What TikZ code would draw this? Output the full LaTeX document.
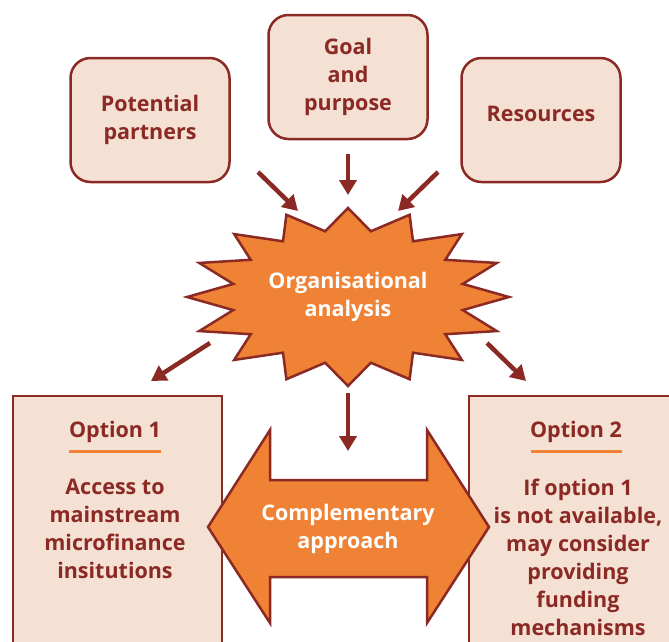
\documentclass[tikz,border=0pt]{standalone}
\usepackage{fontspec}
\setmainfont{Open Sans}
\usetikzlibrary{arrows.meta}
\definecolor{brick}{RGB}{139,42,36}
\definecolor{peach}{RGB}{245,224,212}
\definecolor{burnt}{RGB}{239,130,52}
\begin{document}
\begin{tikzpicture}[x=1pt,y=-1pt,line join=miter,
  font=\fontsize{21.5}{28}\selectfont\bfseries,
  topbox/.style={draw=brick,fill=peach,line width=2.5pt,rounded corners=20pt,minimum width=159pt,minimum height=124pt,text=brick,align=center},
  whitetxt/.style={text=white,align=center},
  redtxt/.style={text=brick,align=center},
  arr/.style={draw=brick,line width=4.5pt,-{Triangle[length=15pt,width=17pt]}}]
\useasboundingbox (0,0) rectangle (669,641);
%top boxes
\node[topbox] (partners) at (150,120) {Potential\\partners};
\node[topbox] (goal) at (348,77) {Goal\\and\\purpose};
\node[topbox,text depth=12pt] (resources) at (541,120) {Resources};
%option boxes (cut off by the border)
\fill[peach] (13,396) rectangle (222,645);
\draw[brick,line width=2.5pt] (13,645)--(13,396)--(222,396)--(222,645);
\fill[peach] (469,396) rectangle (672,645);
\draw[brick,line width=2.5pt] (672,396)--(469,396)--(469,645);
%starburst
\draw[brick,fill=burnt,line width=2.5pt,shift={(348,297)}] (90:161 and 89)
  \foreach \a in {0,22.5,...,337.5}{ -- ({\a+101.25}:117 and 67) -- ({\a+112.5}:161 and 89)} -- cycle;
\node[whitetxt] (analysis) at (348,297) {Organisational\\analysis};
%double arrow
\draw[brick,fill=burnt,line width=2.5pt] (208,527)--(270,430)--(270,480)--(427,480)--(427,430)--(489,527)
  --(427,623)--(427,577)--(270,577)--(270,623)--cycle;
\node[whitetxt] (compl) at (348,529) {Complementary\\approach};
%options
\node[redtxt] (opt1) at (115,432) {Option 1};
\draw[burnt,line width=3pt] (69,451)--(161,451);
\node[redtxt] (opt1txt) at (115,529) {Access to\\mainstream\\microfinance\\insitutions};
\node[redtxt] (opt2) at (576,432) {Option 2};
\draw[burnt,line width=3pt] (531,451)--(622,451);
\node[redtxt] (opt2txt) at (578,557) {If option 1\\is not available,\\may consider\\providing\\funding\\mechanisms};
%arrows
\coordinate (a1) at (258,172); \coordinate (b1) at (298,211);
\coordinate (a2) at (348,154); \coordinate (b2) at (348,195);
\coordinate (a3) at (438,172); \coordinate (b3) at (398,211);
\coordinate (a4) at (210,343); \coordinate (b4) at (151,381);
\coordinate (a5) at (487,343); \coordinate (b5) at (526,381);
\coordinate (a6) at (348,393); \coordinate (b6) at (348,451);
\foreach \i in {1,...,6} \draw[arr] (a\i)--(b\i);
\end{tikzpicture}
\end{document}
